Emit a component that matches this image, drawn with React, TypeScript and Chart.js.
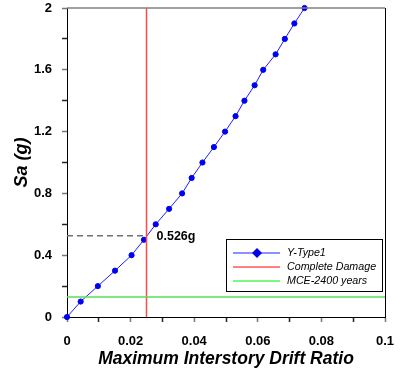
import React, { useEffect, useRef } from "react";
import { Chart, registerables } from "chart.js";

Chart.register(...registerables);

// Y-Type1 fragility curve: maximum interstory drift ratio vs spectral acceleration
const driftRatio = [
  0, 0.0043, 0.0097, 0.0151, 0.0203, 0.0242, 0.0279, 0.0321, 0.0362, 0.0392,
  0.0426, 0.0462, 0.0497, 0.053, 0.0558, 0.059, 0.0617, 0.0656, 0.0685, 0.0715,
  0.0747,
];
const saValues = [
  0, 0.1, 0.2, 0.3, 0.4, 0.5, 0.6, 0.7, 0.8, 0.9, 1.0, 1.1, 1.2, 1.3, 1.4, 1.5,
  1.6, 1.7, 1.8, 1.9, 2.0,
];

// Complete damage drift limit and MCE-2400 years intensity
const completeDamageDrift = 0.025;
const mceSa = 0.13;
const saAtCompleteDamage = 0.526;
const saLabel = "0.526g";

const xTickLabels = ["0", "0.02", "0.04", "0.06", "0.08", "0.1"];
const yTickLabels = ["0", "0.4", "0.8", "1.2", "1.6", "2"];

const legendLabels = ["Y-Type1", "Complete Damage", "MCE-2400 years"];

const FONT = "'Liberation Sans', Arial, sans-serif";
const BLUE = "#1f1fff";
const RED = "#ff4a4a";
const GREEN = "#55e055";

const overlayPlugin = {
  id: "overlay",
  afterDraw(chart: any) {
    const { ctx, chartArea, scales } = chart;
    const { left, right, top, bottom } = chartArea;
    ctx.save();
    // frame: gray top edge, black right edge
    ctx.lineWidth = 1.5;
    ctx.strokeStyle = "#808080";
    ctx.beginPath();
    ctx.moveTo(left, top);
    ctx.lineTo(right, top);
    ctx.stroke();
    ctx.strokeStyle = "#000";
    ctx.lineWidth = 1;
    ctx.beginPath();
    ctx.moveTo(right + 0.5, top);
    ctx.lineTo(right + 0.5, bottom);
    ctx.stroke();

    // value annotation at the complete-damage intersection
    const lx = scales.x.getPixelForValue(completeDamageDrift) + 10;
    const ly = scales.y.getPixelForValue(saAtCompleteDamage);
    ctx.fillStyle = "#000";
    ctx.font = `bold 12.5px ${FONT}`;
    ctx.textAlign = "left";
    ctx.textBaseline = "middle";
    ctx.fillText(saLabel, lx, ly + 1);

    // legend box
    const bx = 226, by = 239, bw = 156, bh = 52;
    ctx.fillStyle = "#fff";
    ctx.fillRect(bx, by, bw, bh);
    ctx.strokeStyle = "#000";
    ctx.lineWidth = 1;
    ctx.strokeRect(bx + 0.5, by + 0.5, bw, bh);
    const colors = [BLUE, "#ff0000", "#00ee00"];
    legendLabels.forEach((label, i) => {
      const y = by + 14 + i * 14;
      ctx.strokeStyle = colors[i];
      ctx.lineWidth = 1;
      ctx.beginPath();
      ctx.moveTo(bx + 7, y);
      ctx.lineTo(bx + 54, y);
      ctx.stroke();
      if (i === 0) {
        const cx = bx + 31;
        ctx.fillStyle = "#0000ee";
        ctx.beginPath();
        ctx.moveTo(cx, y - 5);
        ctx.lineTo(cx + 5, y);
        ctx.lineTo(cx, y + 5);
        ctx.lineTo(cx - 5, y);
        ctx.closePath();
        ctx.fill();
      }
      ctx.fillStyle = "#000";
      ctx.font = `italic 10.7px ${FONT}`;
      ctx.textAlign = "left";
      ctx.textBaseline = "middle";
      ctx.fillText(label, bx + 61, y);
    });
    ctx.restore();
  },
};

export default function App() {
  const canvasRef = useRef<HTMLCanvasElement | null>(null);

  useEffect(() => {
    if (!canvasRef.current) return;
    const chart = new Chart(canvasRef.current, {
      type: "scatter",
      data: {
        datasets: [
          {
            label: "MCE-2400 years",
            data: [
              { x: 0, y: mceSa },
              { x: 0.1, y: mceSa },
            ],
            showLine: true,
            borderColor: GREEN,
            borderWidth: 1.5,
            pointRadius: 0,
          },
          {
            label: "Complete Damage",
            data: [
              { x: completeDamageDrift, y: 0 },
              { x: completeDamageDrift, y: 2 },
            ],
            showLine: true,
            borderColor: RED,
            borderWidth: 1.5,
            pointRadius: 0,
          },
          {
            label: "Sa at complete damage",
            data: [
              { x: 0, y: saAtCompleteDamage },
              { x: completeDamageDrift, y: saAtCompleteDamage },
            ],
            showLine: true,
            borderColor: "#707070",
            borderWidth: 1.5,
            borderDash: [6, 4],
            pointRadius: 0,
          },
          {
            label: "Y-Type1",
            data: driftRatio.map((x, i) => ({ x, y: saValues[i] })),
            showLine: true,
            borderColor: BLUE,
            borderWidth: 1,
            backgroundColor: "#0000f0",
            pointBackgroundColor: "#0000f0",
            pointBorderColor: "#0000f0",
            pointRadius: 2.6,
            pointBorderWidth: 1,
            pointStyle: "circle",
            clip: false as any,
          },
        ],
      },
      options: {
        animation: false,
        responsive: false,
        maintainAspectRatio: false,
        layout: { padding: { left: 0, right: 15, top: 8, bottom: 0 } },
        plugins: {
          legend: { display: false },
          tooltip: { enabled: false },
        },
        scales: {
          x: {
            type: "linear",
            min: 0,
            max: 0.1,
            afterFit(scale: any) {
              scale.height = 55;
              scale.paddingLeft = 0;
              scale.paddingRight = 0;
            },
            afterBuildTicks(scale: any) {
              const t = [];
              for (let i = 0; i <= 10; i++) t.push({ value: i / 100 });
              scale.ticks = t;
            },
            border: { display: true, color: "#000", width: 1 },
            grid: {
              display: true,
              drawOnChartArea: false,
              drawTicks: true,
              tickLength: 5,
              tickWidth: 1.5,
              tickColor: (c: any) => (c.index % 2 === 0 ? "#777" : "#222"),
            },
            ticks: {
              autoSkip: false,
              maxRotation: 0,
              padding: 12,
              color: "#000",
              font: { family: FONT, size: 13, weight: "bold" },
              callback: (_v: any, i: number) => (i % 2 === 0 ? xTickLabels[i / 2] : ""),
            },
            title: {
              display: true,
              text: "Maximum Interstory Drift Ratio",
              color: "#000",
              font: { family: FONT, size: 17.5, weight: "bold", style: "italic" },
              padding: { top: 0, bottom: 2 },
            },
          },
          y: {
            type: "linear",
            min: 0,
            max: 2,
            afterFit(scale: any) {
              scale.width = 67;
              scale.paddingTop = 0;
              scale.paddingBottom = 0;
            },
            afterBuildTicks(scale: any) {
              const t = [];
              for (let i = 0; i <= 10; i++) t.push({ value: i / 5 });
              scale.ticks = t;
            },
            border: { display: true, color: "#000", width: 1 },
            grid: {
              display: true,
              drawOnChartArea: false,
              drawTicks: true,
              tickLength: 5,
              tickWidth: 1.5,
              tickColor: (c: any) => (c.index % 2 === 0 ? "#777" : "#222"),
            },
            ticks: {
              autoSkip: false,
              padding: 10,
              color: "#000",
              font: { family: FONT, size: 13, weight: "bold" },
              callback: (_v: any, i: number) => (i % 2 === 0 ? yTickLabels[i / 2] : ""),
            },
            title: {
              display: true,
              text: "Sa (g)",
              color: "#000",
              font: { family: FONT, size: 18, weight: "bold", style: "italic" },
              padding: { top: 11, bottom: 0 },
            },
          },
        },
      },
      plugins: [overlayPlugin],
    });
    return () => chart.destroy();
  }, []);

  return (
    <div style={{ position: "fixed", left: 0, top: 0, width: 400, height: 372, background: "#fff" }}>
      <canvas ref={canvasRef} width={400} height={372} style={{ width: 400, height: 372 }} />
    </div>
  );
}
